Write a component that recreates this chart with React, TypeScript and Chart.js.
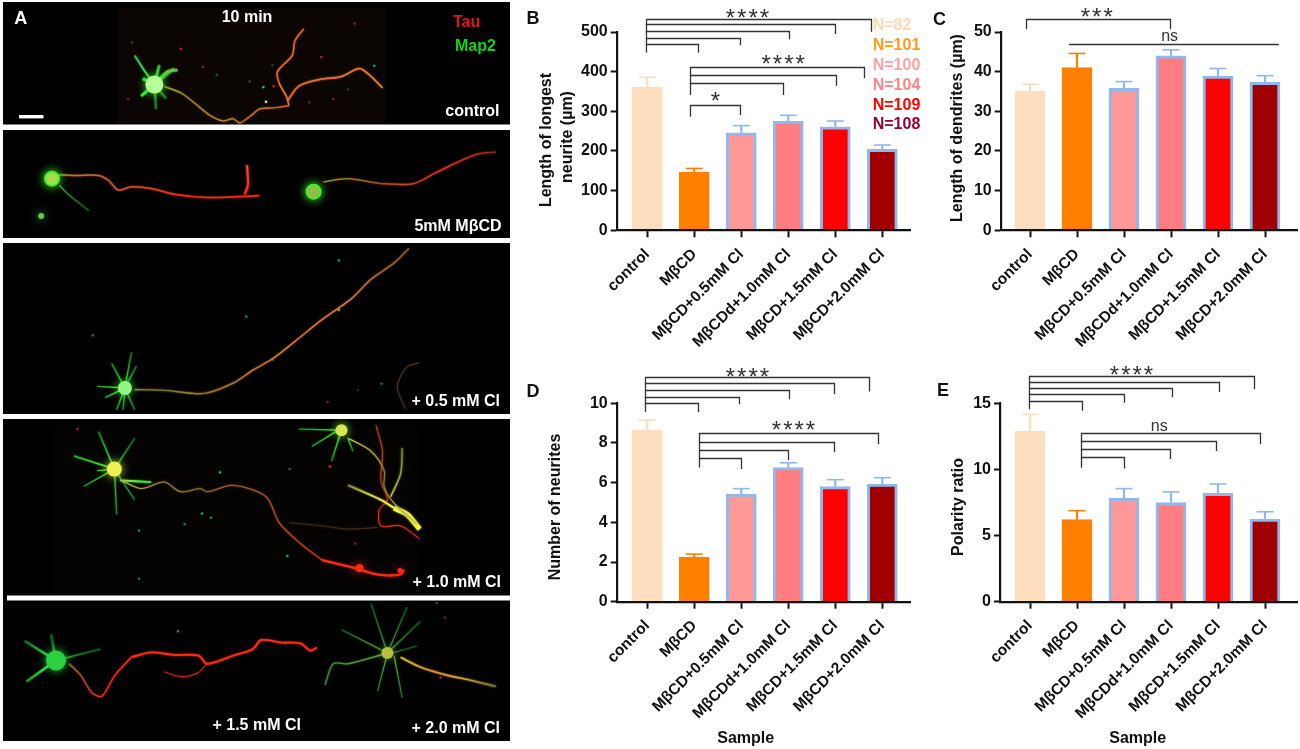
import React, { useEffect, useRef } from "react";
import { Chart, registerables } from "chart.js";

Chart.register(...registerables);

const FONT = '"Liberation Sans", Arial, sans-serif';
const W = 1300;
const H = 749;

// ---------- bar chart data ----------
const categories = ["control", "MβCD", "MβCD+0.5mM Cl", "MβCDd+1.0mM Cl", "MβCD+1.5mM Cl", "MβCD+2.0mM Cl"];
const fills = ["#FFDDBF", "#FF8000", "#FF9999", "#FF7C80", "#FF0000", "#A00000"];
const edges = ["#FFDDBF", "#FF8000", "#8FB8EC", "#8FB8EC", "#8FB8EC", "#8FB8EC"];

const longestNeurite = [360.5, 147, 246, 275, 261, 204];
const longestNeuriteTop = [385.7, 156, 264, 290, 275.6, 215];
const dendriteLength = [35.1, 41, 35.8, 44, 38.9, 37.3];
const dendriteLengthTop = [36.8, 44.6, 37.5, 45.5, 40.8, 39];
const neuriteCount = [8.65, 2.25, 5.43, 6.76, 5.8, 5.93];
const neuriteCountTop = [9.16, 2.4, 5.7, 7.0, 6.15, 6.25];
const polarityRatio = [12.9, 6.2, 7.84, 7.5, 8.2, 6.25];
const polarityRatioTop = [14.16, 6.88, 8.55, 8.3, 8.9, 6.8];

// significance brackets: [fromCategory, toCategory, level, leftEnd, rightEnd]
const bracketsB = [
  [-0.03, 4.75, 532.8, 447.9, 500.8],
  [-0.03, 3.99, 520.2, 520.2, 494.9],
  [-0.03, 3.01, 503.4, 503.4, 481.5],
  [-0.03, 1.97, 485.7, 485.7, 466.4],
  [-0.03, 1.085, 470.6, 470.6, 447.9],
  [0.915, 4.61, 412.6, 341.2, 383.2],
  [0.915, 4.01, 391.6, 391.6, 364.7],
  [0.915, 2.89, 370.6, 370.6, 341.2],
  [0.915, 1.97, 316, 286.5, 290.8],
];
const marksB: [string, number, number][] = [["****", 2.13, 547], ["****", 2.89, 431], ["*", 1.45, 337]];
const bracketsC = [
  [-0.085, 2.98, 53.28, 50.67, 50.67],
  [0.82, 5.28, 46.89, 46.89, 46.89],
];
const marksC: [string, number, number][] = [["***", 1.42, 54.87], ["ns", 2.97, 48.8]];
const bracketsD = [
  [-0.057, 4.72, 11.31, 9.58, 10.59],
  [-0.057, 3.97, 11.01, 11.01, 10.47],
  [-0.057, 3.01, 10.67, 10.67, 10.2],
  [-0.057, 1.95, 10.34, 10.34, 9.95],
  [-0.057, 1.07, 10.02, 10.02, 9.55],
  [1.11, 4.9, 8.49, 6.76, 7.93],
  [1.11, 3.97, 8.05, 8.05, 7.55],
  [1.11, 2.99, 7.65, 7.65, 7.14],
  [1.11, 1.99, 7.26, 7.26, 6.69],
];
const marksD: [string, number, number][] = [["****", 2.13, 11.55], ["****", 3.11, 8.86]];
const bracketsE = [
  [-0.014, 4.77, 17.09, 14.55, 16.06],
  [-0.014, 4.02, 16.59, 16.59, 15.86],
  [-0.014, 3.03, 16.13, 16.13, 15.45],
  [-0.014, 1.99, 15.68, 15.68, 15.05],
  [-0.014, 1.11, 15.2, 15.2, 14.44],
  [1.085, 4.89, 12.73, 10.13, 11.92],
  [1.085, 3.95, 12.15, 12.15, 11.39],
  [1.085, 2.98, 11.52, 11.52, 10.79],
  [1.085, 1.99, 10.92, 10.92, 10.08],
];
const marksE: [string, number, number][] = [["****", 2.16, 17.47], ["ns", 2.75, 13.23]];

const sampleLabels = ["N=82", "N=101", "N=100", "N=104", "N=109", "N=108"];
const sampleColors = ["#FFD9B5", "#FF9A1E", "#FFA0A3", "#FF8286", "#FF0000", "#990033"];

type Txt = [string, number, number, string?];
type Panel = {
  id: string;
  axisX: number;
  axisRight: number;
  top: number;
  zero: number;
  firstTick: number;
  max: number;
  step: number;
  values: number[];
  tops: number[];
  brackets: number[][];
  marks: [string, number, number][];
  letter: [string, number, number];
  title: Txt[];
  sample?: [number, number];
};

const panels: Panel[] = [
  {
    id: "B", axisX: 616.7, axisRight: 910, top: 32, zero: 230.3, firstTick: 647.3, max: 500, step: 100,
    values: longestNeurite, tops: longestNeuriteTop, brackets: bracketsB, marks: marksB,
    letter: ["B", 533, 19],
    title: [["Length of longest", 547, 140], ["neurite (µm)", 568, 137]],
  },
  {
    id: "C", axisX: 1000.7, axisRight: 1297.7, top: 32, zero: 230.3, firstTick: 1030, max: 50, step: 10,
    values: dendriteLength, tops: dendriteLengthTop, brackets: bracketsC, marks: marksC,
    letter: ["C", 939.5, 20],
    title: [["Length of dendrites (µm)", 958, 128]],
  },
  {
    id: "D", axisX: 616.7, axisRight: 910, top: 403.3, zero: 601.7, firstTick: 647.3, max: 10, step: 2,
    values: neuriteCount, tops: neuriteCountTop, brackets: bracketsD, marks: marksD,
    letter: ["D", 533, 392.5],
    title: [["Number of neurites", 556, 507]],
    sample: [745.7, 739],
  },
  {
    id: "E", axisX: 1000, axisRight: 1297.7, top: 403.3, zero: 601.7, firstTick: 1030, max: 15, step: 5,
    values: polarityRatio, tops: polarityRatioTop, brackets: bracketsE, marks: marksE,
    letter: ["E", 943, 391.5],
    title: [["Polarity ratio", 959, 507]],
    sample: [1137.7, 739],
  },
];

// ---------- micrograph panel data (traced neurites) ----------
const ABOVE = 0;
const BELOW = 720;
const GREEN = "#35e635";
const DIMGREEN = "#177a22";
const YELLOW = "#c8dc50";
const ORANGE = "#e8803a";
const RED = "#ff2a12";
const BROWN = "#6a4024";

type Trace = [number, string[], number, number[][]];
const traces: Trace[] = [
  // control
  [ABOVE, ["#70c040", "#a89040", "#d08038", "#e07030"], 1.1, [[470, 236], [520, 255], [560, 285], [610, 325], [650, 342], [680, 335], [700, 348], [735, 325], [760, 305], [800, 302], [850, 295]]],
  [ABOVE, [ORANGE, "#e86030"], 1.3, [[850, 295], [843, 268], [820, 225], [815, 190], [860, 140], [868, 95], [895, 58]]],
  [ABOVE, ["#f06030", "#e8803a"], 1.5, [[845, 280], [880, 235], [940, 215], [1010, 205], [1065, 180], [1100, 205], [1135, 240]]],
  [ABOVE, [GREEN, "#2fa060"], 1.8, [[440, 230], [405, 180], [380, 140]]],
  [ABOVE, [GREEN, "#2aa030"], 2.6, [[440, 230], [455, 170]]],
  [ABOVE, [GREEN, "#70c040"], 2.6, [[440, 230], [480, 190], [510, 185]]],
  [ABOVE, [GREEN, "#2aa030"], 2.6, [[440, 230], [500, 180]]],
  [ABOVE, [GREEN, DIMGREEN], 2.2, [[440, 230], [445, 305]]],
  [ABOVE, [GREEN, DIMGREEN], 2.2, [[440, 230], [475, 272]]],
  [ABOVE, [GREEN, GREEN], 2.6, [[440, 230], [400, 265]]],
  [ABOVE, [GREEN, GREEN], 2.6, [[440, 230], [405, 212]]],
  // MbCD
  [ABOVE, ["#60b040", "#b06030", RED, RED], 1.5, [[150, 508], [200, 510], [270, 510], [300, 525], [330, 555], [370, 545], [430, 550], [500, 568], [600, 578], [700, 575], [760, 572]]],
  [ABOVE, ["#e05030", RED], 2.2, [[722, 478], [725, 540], [715, 568]]],
  [ABOVE, [GREEN, "#2a5a20"], 1.2, [[150, 540], [180, 570], [240, 618]]],
  [ABOVE, ["#50c040", "#906030", RED, "#7a3420"], 1.3, [[955, 530], [1030, 520], [1130, 535], [1230, 535], [1300, 500], [1420, 445], [1480, 438]]],
  // 0.5 mM
  [BELOW, ["#40b040", "#907838", ORANGE, ORANGE, "#806030"], 1.2, [[380, 450], [470, 452], [590, 462], [680, 430], [740, 390], [800, 355], [870, 300], [950, 235], [1040, 170], [1100, 110], [1170, 60], [1215, 15]]],
  [BELOW, [BROWN, "#4a3420"], 0.9, [[1245, 368], [1210, 380], [1180, 440], [1205, 510]]],
  [BELOW, [GREEN, DIMGREEN], 1.3, [[350, 445], [370, 335]]],
  [BELOW, [GREEN, DIMGREEN], 1.3, [[350, 445], [310, 370]]],
  [BELOW, [GREEN, DIMGREEN], 1.3, [[350, 445], [385, 378]]],
  [BELOW, [GREEN, DIMGREEN], 1.3, [[350, 445], [265, 440]]],
  [BELOW, [GREEN, DIMGREEN], 1.3, [[350, 445], [290, 475]]],
  [BELOW, [GREEN, DIMGREEN], 1.3, [[350, 445], [325, 512]]],
  [BELOW, [GREEN, DIMGREEN], 1.3, [[350, 445], [345, 512]]],
  [BELOW, [GREEN, DIMGREEN], 1.3, [[350, 445], [380, 512]]],
  // 1.0 mM
  [BELOW, ["#c8dc50", "#808838", "#a06038", "#b84828", RED], 1.1, [[340, 730], [400, 755], [470, 735], [520, 765], [580, 755], [600, 765], [680, 745], [780, 780], [820, 860], [880, 920], [950, 975]]],
  [BELOW, [RED, RED], 2, [[950, 975], [1050, 1000], [1120, 1020], [1190, 1020], [1200, 1005]]],
  [BELOW, [GREEN, DIMGREEN], 1.5, [[318, 695], [270, 580]]],
  [BELOW, [GREEN, DIMGREEN], 1.2, [[318, 695], [380, 600]]],
  [BELOW, [GREEN, "#2aa030"], 1.6, [[318, 695], [195, 655]]],
  [BELOW, [GREEN, DIMGREEN], 1.2, [[318, 695], [225, 748]]],
  [BELOW, [GREEN, DIMGREEN], 1.2, [[318, 695], [325, 835]]],
  [BELOW, [GREEN, DIMGREEN], 1.2, [[318, 695], [380, 790]]],
  [BELOW, [GREEN, DIMGREEN], 1.2, [[318, 695], [265, 700]]],
  [BELOW, ["#e0f050", GREEN], 1.8, [[335, 730], [430, 735]]],
  [BELOW, [GREEN, DIMGREEN], 1.3, [[1010, 575], [880, 572]]],
  [BELOW, [GREEN, DIMGREEN], 1.3, [[1000, 575], [920, 625]]],
  [BELOW, [GREEN, DIMGREEN], 1.3, [[1005, 590], [980, 670]]],
  [BELOW, [GREEN, DIMGREEN], 1.3, [[1030, 600], [1045, 640]]],
  [BELOW, [YELLOW, "#8a7a30", YELLOW], 1.1, [[1030, 600], [1100, 640], [1140, 700], [1140, 750], [1170, 800], [1240, 865]]],
  [BELOW, ["#8a6a30", YELLOW, "#f4f440"], 1.8, [[1030, 745], [1130, 790], [1170, 815]]],
  [BELOW, ["#f4f440", "#f4f440"], 5, [[1170, 815], [1210, 835], [1248, 880]]],
  [BELOW, ["#708030", YELLOW], 1.2, [[1195, 630], [1190, 710], [1160, 780]]],
  [BELOW, ["#a05020", "#a05020", RED, RED], 1, [[1115, 560], [1135, 640], [1130, 730], [1150, 790], [1125, 820], [1130, 870], [1190, 870], [1248, 910]]],
  [BELOW, ["#3a2418", "#4a3020"], 0.9, [[850, 860], [950, 870], [1030, 880], [1120, 875]]],
  // 1.5 mM
  [BELOW, ["#40b040", "#906040", RED, RED], 1.2, [[180, 1295], [215, 1330], [250, 1385], [280, 1395], [320, 1330], [370, 1275]]],
  [BELOW, [RED, RED], 1.9, [[370, 1275], [430, 1260], [500, 1268], [575, 1270], [600, 1295], [680, 1270], [740, 1250], [765, 1222], [830, 1230], [885, 1232], [915, 1255], [935, 1245]]],
  [BELOW, [RED, "#a02018"], 1, [[600, 1295], [570, 1325], [520, 1335], [470, 1320]]],
  [BELOW, [GREEN, "#0f5a22"], 2.4, [[140, 1285], [45, 1225]]],
  [BELOW, [GREEN, "#0f5a22"], 2.4, [[140, 1285], [125, 1205]]],
  [BELOW, [GREEN, "#0f5a22"], 2.4, [[140, 1285], [50, 1350]]],
  [BELOW, [GREEN, "#0f5a22"], 1.6, [[140, 1285], [275, 1250]]],
  // 2.0 mM
  [BELOW, ["#c8c840", ORANGE, "#d8a040", "#507040"], 1.7, [[1190, 1275], [1250, 1305], [1330, 1330], [1400, 1345], [1480, 1365]]],
  [BELOW, ["#70a030", "#125a20"], 1.2, [[1150, 1262], [1010, 1190]]],
  [BELOW, ["#70a030", "#125a20"], 1.2, [[1150, 1262], [1100, 1110]]],
  [BELOW, ["#70a030", "#125a20"], 1.2, [[1150, 1262], [1210, 1120]]],
  [BELOW, ["#70a030", "#125a20"], 1.2, [[1150, 1262], [1250, 1165]]],
  [BELOW, ["#70a030", "#228030"], 1.4, [[1150, 1262], [1030, 1295], [985, 1295], [960, 1360]]],
  [BELOW, ["#70a030", "#125a20"], 1.2, [[1150, 1262], [1120, 1380]]],
  [BELOW, ["#70a030", "#125a20"], 1.2, [[1170, 1270], [1195, 1400]]],
  [BELOW, ["#70a030", "#125a20"], 1, [[1165, 1262], [1240, 1240]]],
];

// soma bodies: [offset, x, y, radius, fill, ring/glow colour, ring width]
const somas: [number, number, number, number, string, string, number][] = [
  [ABOVE, 440, 230, 9, "#b8ff9a", "#36f036", 0],
  [ABOVE, 128, 520, 7, "#c4d850", "#40f030", 2],
  [ABOVE, 925, 560, 7, "#a8b048", "#40f030", 2],
  [ABOVE, 95, 635, 3, "#60d040", "#30c030", 0],
  [BELOW, 350, 445, 7, "#90f880", "#36f036", 0],
  [BELOW, 318, 695, 7.5, "#f0f050", "#c0f040", 0],
  [BELOW, 1010, 575, 6, "#d8e850", "#80f040", 0],
  [BELOW, 140, 1285, 10, "#2ccf40", "#2ccf40", 0],
  [BELOW, 1150, 1262, 6, "#b8c040", "#508828", 0],
  [BELOW, 1065, 1000, 4, "#ff2a12", "#ff2a12", 0],
  [BELOW, 1188, 1008, 2.5, "#ff2a12", "#ff2a12", 0],
];

// small stained specks: [offset, x, y, colour]
const specks: [number, number, number, string][] = [
  [ABOVE, 780, 283, "#d0ffd0"], [ABOVE, 772, 238, "#40c060"], [ABOVE, 803, 235, "#d03030"], [ABOVE, 948, 145, "#b03020"],
  [ABOVE, 520, 120, "#b02030"], [ABOVE, 1110, 172, "#30a0a0"], [ABOVE, 1050, 42, "#a02020"], [ABOVE, 630, 200, "#1a5a40"],
  [ABOVE, 588, 175, "#802030"], [ABOVE, 985, 275, "#802020"], [ABOVE, 912, 285, "#702020"], [ABOVE, 730, 220, "#304a40"],
  [ABOVE, 800, 170, "#2a4038"], [ABOVE, 1030, 245, "#1c4a28"], [ABOVE, 360, 275, "#702020"], [ABOVE, 372, 100, "#1c4a28"],
  [BELOW, 720, 225, "#20a050"], [BELOW, 1002, 52, "#20a050"], [BELOW, 252, 283, "#1a7a40"], [BELOW, 1132, 432, "#1a7a50"],
  [BELOW, 1002, 205, "#50d050"], [BELOW, 800, 358, "#406030"], [BELOW, 968, 488, "#603030"], [BELOW, 1060, 452, "#502020"],
  [BELOW, 640, 705, "#20d060"], [BELOW, 975, 687, "#ff2030"], [BELOW, 585, 832, "#20c060"], [BELOW, 612, 845, "#20a050"],
  [BELOW, 532, 865, "#1a8a50"], [BELOW, 393, 885, "#1a8a50"], [BELOW, 845, 963, "#20c060"], [BELOW, 393, 1033, "#1a8a50"],
  [BELOW, 205, 572, "#a02030"], [BELOW, 1052, 925, "#802030"], [BELOW, 852, 695, "#506030"],
  [BELOW, 512, 1195, "#20a050"], [BELOW, 1300, 1108, "#404a30"], [BELOW, 1325, 1153, "#703020"], [BELOW, 1312, 1338, "#b02818"],
];

// ---------- plugins ----------
const drawLabel = (ctx: CanvasRenderingContext2D, text: string, x: number, y: number, font: string, color: string, align: CanvasTextAlign = "left", rotate = 0) => {
  ctx.save();
  ctx.font = font;
  ctx.fillStyle = color;
  ctx.textAlign = align;
  ctx.textBaseline = "middle";
  ctx.translate(x, y);
  if (rotate) ctx.rotate(rotate);
  ctx.fillText(text, 0, 0);
  ctx.restore();
};

const panelPlugin = (p: Panel) => ({
  id: "panel" + p.id,
  afterDatasetsDraw(chart: any) {
    const { ctx, scales } = chart;
    const sx = scales.x;
    const sy = scales.y;
    ctx.save();
    p.tops.forEach((t, i) => {
      const x = sx.getPixelForValue(i);
      const y0 = sy.getPixelForValue(p.values[i]);
      const y1 = sy.getPixelForValue(t);
      ctx.strokeStyle = edges[i];
      ctx.lineWidth = 2.2;
      ctx.beginPath();
      ctx.moveTo(x, y0);
      ctx.lineTo(x, y1);
      ctx.stroke();
      ctx.lineWidth = 1.6;
      ctx.beginPath();
      ctx.moveTo(x - 8.5, y1);
      ctx.lineTo(x + 8.5, y1);
      ctx.stroke();
    });
    ctx.strokeStyle = "#333";
    ctx.lineWidth = 1.3;
    p.brackets.forEach(([a, b, lv, l, r]) => {
      const xa = Math.round(sx.getPixelForValue(a)) + 0.5;
      const xb = Math.round(sx.getPixelForValue(b)) + 0.5;
      const yy = Math.round(sy.getPixelForValue(lv)) + 0.5;
      ctx.beginPath();
      ctx.moveTo(xa, sy.getPixelForValue(l));
      ctx.lineTo(xa, yy);
      ctx.lineTo(xb, yy);
      ctx.lineTo(xb, sy.getPixelForValue(r));
      ctx.stroke();
    });
    p.marks.forEach(([text, cat, val]) => {
      const x = sx.getPixelForValue(cat);
      const y = sy.getPixelForValue(val);
      if (text === "ns") {
        drawLabel(ctx, text, x, y, `16px ${FONT}`, "#333", "center");
      } else {
        ctx.save();
        ctx.font = `24px ${FONT}`;
        (ctx as any).letterSpacing = "2px";
        ctx.fillStyle = "#333";
        ctx.textAlign = "center";
        ctx.textBaseline = "alphabetic";
        const m = ctx.measureText(text);
        ctx.fillText(text, x + 1, y + (m.actualBoundingBoxAscent - m.actualBoundingBoxDescent) / 2);
        ctx.restore();
      }
    });
    drawLabel(ctx, p.letter[0], p.letter[1], p.letter[2], `bold 18px ${FONT}`, "#111", "center");
    p.title.forEach(([text, x, y]) => drawLabel(ctx, text, x, y, `bold 16px ${FONT}`, "#111", "center", -Math.PI / 2));
    if (p.sample) drawLabel(ctx, "Sample", p.sample[0], p.sample[1], `bold 16px ${FONT}`, "#111", "center");
    if (p.id === "B") {
      sampleLabels.forEach((s, i) => drawLabel(ctx, s, 872.7, 25.3 + i * 19.95, `bold 16px ${FONT}`, sampleColors[i]));
    }
    ctx.restore();
  },
});

const imagePanels = [
  [3, 2, 507, 122.5],
  [3, 130, 507, 108],
  [3, 243, 507, 171],
  [3, 419, 507, 176.5],
  [3, 600.5, 507, 140.5],
  [3, 595, 4, 6],
];

const microPlugin = {
  id: "micro",
  beforeDatasetsDraw(chart: any) {
    const { ctx } = chart;
    ctx.save();
    ctx.fillStyle = "#010101";
    imagePanels.forEach(([x, y, w, h]) => ctx.fillRect(x, y, w, h));
    ctx.fillStyle = "#0b0503";
    ctx.fillRect(118, 8, 267, 116);
    ctx.fillStyle = "#050302";
    ctx.fillRect(55, 430, 362, 164);
    ctx.restore();
  },
  beforeDatasetDraw(chart: any, args: any) {
    const ds = chart.data.datasets[args.index];
    chart.ctx.shadowBlur = ds.glow || 0;
    chart.ctx.shadowColor = ds.glowColor || "transparent";
  },
  afterDatasetDraw(chart: any) {
    chart.ctx.shadowBlur = 0;
    chart.ctx.shadowColor = "transparent";
  },
  afterDatasetsDraw(chart: any) {
    const { ctx } = chart;
    const bold = `bold 16px ${FONT}`;
    drawLabel(ctx, "A", 20.7, 19, `bold 18px ${FONT}`, "#fff", "center");
    drawLabel(ctx, "10 min", 247, 18, bold, "#fff", "center");
    drawLabel(ctx, "Tau", 453, 22.5, bold, "#e01515");
    drawLabel(ctx, "Map2", 455, 46.5, bold, "#18d018");
    drawLabel(ctx, "control", 499.5, 112, bold, "#fff", "right");
    drawLabel(ctx, "5mM MβCD", 501.5, 226.5, bold, "#fff", "right");
    drawLabel(ctx, "+ 0.5 mM Cl", 500, 401.5, bold, "#fff", "right");
    drawLabel(ctx, "+ 1.0 mM Cl", 501, 582.5, bold, "#fff", "right");
    drawLabel(ctx, "+ 1.5 mM Cl", 256.7, 725.5, bold, "#fff", "center");
    drawLabel(ctx, "+ 2.0 mM Cl", 500, 728.3, bold, "#fff", "right");
    ctx.save();
    ctx.fillStyle = "#fff";
    ctx.fillRect(19, 115, 24.5, 3.4);
    ctx.restore();
  },
};

const at = (o: number, pts: number[][]) => pts.map(([x, y]) => ({ x: x / 3, y: (y + o) / 3 }));

// ---------- charts ----------
const BarPanel = ({ p }: { p: Panel }) => {
  const ref = useRef<HTMLCanvasElement>(null);
  useEffect(() => {
    const yWidth = 60;
    const xHeight = 135;
    const spacing = 47;
    const startVal = (p.axisX - p.firstTick) / spacing;
    const endVal = (p.axisRight - p.firstTick) / spacing;
    const chart = new Chart(ref.current!, {
      type: "bar",
      data: {
        labels: categories,
        datasets: [
          {
            data: p.values,
            backgroundColor: fills,
            borderColor: edges,
            borderWidth: 3,
            borderSkipped: "bottom",
            barThickness: 30,
          },
        ],
      },
      options: {
        animation: false,
        responsive: false,
        devicePixelRatio: 1,
        layout: {
          padding: {
            left: p.axisX - yWidth,
            right: W - p.axisRight,
            top: p.top,
            bottom: H - p.zero - xHeight,
          },
        },
        plugins: { legend: { display: false }, tooltip: { enabled: false }, title: { display: false } },
        scales: {
          x: {
            type: "category",
            offset: true,
            afterBuildTicks: (s: any) => {
              s._startValue = startVal;
              s._valueRange = endVal - startVal;
            },
            afterFit: (s: any) => {
              s.height = xHeight;
            },
            border: { color: "#111", width: 2.2, z: 1 },
            grid: { offset: false, drawOnChartArea: false, drawTicks: true, tickLength: 7, tickWidth: 2, tickColor: "#111" },
            ticks: {
              autoSkip: false,
              maxRotation: 45,
              minRotation: 45,
              padding: 8,
              color: "#111",
              font: { family: FONT, size: 15.5, weight: "bold" },
            },
          },
          y: {
            min: 0,
            max: p.max,
            afterFit: (s: any) => {
              s.width = yWidth;
            },
            border: { color: "#111", width: 2.2 },
            grid: { drawOnChartArea: false, drawTicks: true, tickLength: 6, tickWidth: 2, tickColor: "#111" },
            ticks: {
              stepSize: p.step,
              padding: 3,
              color: "#111",
              font: { family: FONT, size: 16, weight: "bold" },
            },
          },
        },
      } as any,
      plugins: [panelPlugin(p)],
    });
    return () => chart.destroy();
  }, [p]);
  return <canvas ref={ref} width={W} height={H} style={{ position: "absolute", left: 0, top: 0, width: W, height: H }} />;
};

const MicroPanel = () => {
  const ref = useRef<HTMLCanvasElement>(null);
  useEffect(() => {
    const canvas = ref.current!;
    const ctx = canvas.getContext("2d")!;
    const gradient = (pts: { x: number; y: number }[], stops: string[]) => {
      const a = pts[0];
      const b = pts[pts.length - 1];
      const g = ctx.createLinearGradient(a.x, a.y, b.x + 0.01, b.y + 0.01);
      stops.forEach((c, i) => g.addColorStop(stops.length > 1 ? i / (stops.length - 1) : 0, c));
      return g;
    };
    const lines = traces.map(([o, stops, w, pts]) => {
      const data = at(o, pts);
      return {
        data,
        showLine: true,
        borderColor: gradient(data, stops),
        borderWidth: w,
        tension: 0.3,
        pointRadius: 0,
        glow: 2,
        glowColor: stops[Math.floor(stops.length / 2)],
      };
    });
    const bodies = somas.map(([o, x, y, r, c, g, ring]) => ({
      data: at(o, [[x, y]]),
      pointRadius: r,
      pointBorderWidth: ring,
      pointBorderColor: g,
      backgroundColor: c,
      glow: 10,
      glowColor: g,
    }));
    const dots = specks.map(([o, x, y, c]) => ({
      data: at(o, [[x, y]]),
      pointRadius: 1.1,
      pointBorderWidth: 0,
      backgroundColor: c,
      glow: 2,
      glowColor: c,
    }));
    const chart = new Chart(canvas, {
      type: "scatter",
      data: { datasets: [...bodies, ...lines, ...dots] as any },
      options: {
        animation: false,
        responsive: false,
        devicePixelRatio: 1,
        layout: { padding: 0 },
        plugins: { legend: { display: false }, tooltip: { enabled: false } },
        scales: {
          x: { type: "linear", min: 0, max: W, display: false },
          y: { type: "linear", min: 0, max: H, reverse: true, display: false },
        },
      } as any,
      plugins: [microPlugin],
    });
    return () => chart.destroy();
  }, []);
  return <canvas ref={ref} width={W} height={H} style={{ position: "absolute", left: 0, top: 0, width: W, height: H }} />;
};

export default function App() {
  return (
    <div style={{ position: "fixed", left: 0, top: 0, width: W, height: H, background: "#fff", overflow: "hidden" }}>
      <MicroPanel />
      {panels.map((p) => (
        <BarPanel key={p.id} p={p} />
      ))}
    </div>
  );
}
